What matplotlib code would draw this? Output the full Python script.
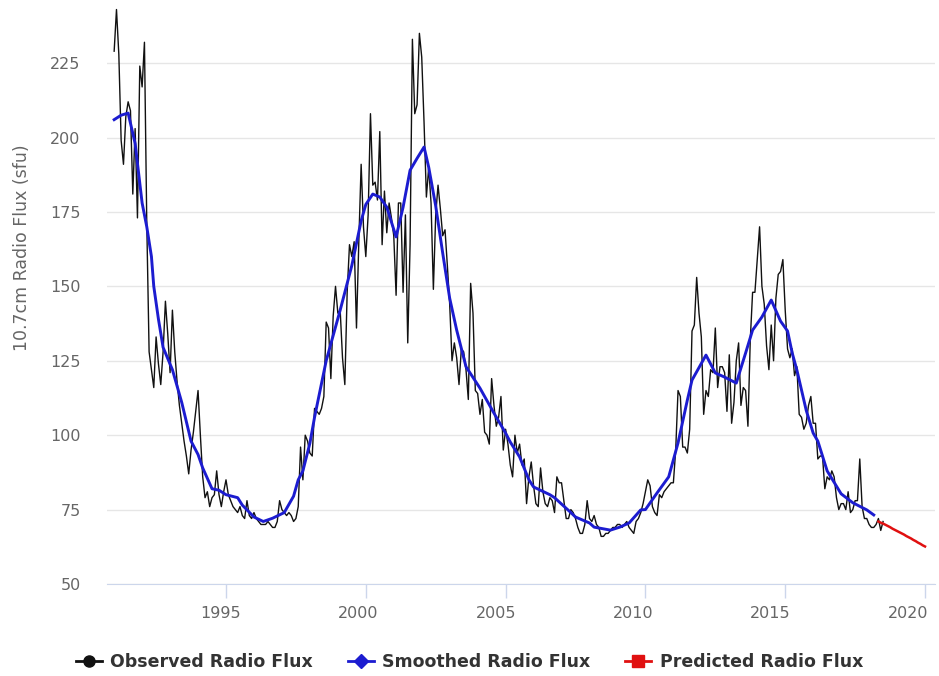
import numpy as np
import matplotlib.pyplot as plt
import matplotlib.transforms as mtransforms
from matplotlib.lines import Line2D

# Monthly observed 10.7 cm radio flux (sfu), Jan 1991 - Jul 2018
observed = [
    229, 243, 228, 199, 191, 207, 212, 209, 181, 203, 173, 224,   # 1991
    217, 232, 171, 128, 122, 116, 133, 124, 117, 128, 145, 134,   # 1992
    121, 142, 128, 118, 110, 104, 98, 93, 87, 95, 101, 108,       # 1993
    115, 100, 86, 79, 81, 76, 79, 80, 88, 80, 76, 81,             # 1994
    85, 80, 78, 76, 75, 74, 76, 73, 72, 78, 73, 72,               # 1995
    74, 72, 71, 70, 70, 70, 71, 70, 69, 69, 71, 78,               # 1996
    75, 74, 73, 74, 73, 71, 72, 76, 96, 85, 100, 98,              # 1997
    94, 93, 109, 108, 107, 109, 113, 138, 136, 119, 140, 150,     # 1998
    141, 142, 126, 117, 148, 164, 160, 165, 136, 165, 191, 170,   # 1999
    160, 174, 208, 184, 185, 179, 202, 164, 182, 168, 178, 173,   # 2000
    167, 147, 178, 178, 148, 174, 131, 164, 233, 208, 211, 235,   # 2001
    227, 205, 180, 190, 178, 149, 174, 184, 176, 167, 169, 157,   # 2002
    144, 125, 131, 126, 117, 129, 128, 122, 112, 151, 141, 115,   # 2003
    114, 107, 112, 101, 100, 97, 119, 110, 103, 106, 113, 95,     # 2004
    102, 97, 90, 86, 100, 94, 97, 90, 92, 77, 86, 91,             # 2005
    83, 77, 76, 89, 81, 77, 76, 79, 78, 74, 86, 84,               # 2006
    84, 78, 72, 72, 75, 74, 72, 69, 67, 67, 70, 78,               # 2007
    72, 71, 73, 70, 69, 66, 66, 67, 67, 68, 69, 69,               # 2008
    70, 70, 69, 70, 71, 69, 68, 67, 71, 72, 74, 77,               # 2009
    81, 85, 83, 76, 74, 73, 80, 79, 81, 82, 83, 84,               # 2010
    84, 95, 115, 113, 96, 96, 94, 102, 135, 137, 153, 141,        # 2011
    133, 107, 115, 113, 122, 121, 136, 116, 123, 123, 121, 108,   # 2012
    127, 104, 111, 125, 131, 110, 116, 115, 103, 132, 148, 148,   # 2013
    159, 170, 150, 144, 130, 122, 137, 125, 146, 154, 155, 159,   # 2014
    142, 129, 126, 129, 120, 123, 107, 106, 102, 104, 110, 113,   # 2015
    104, 104, 92, 93, 93, 82, 86, 85, 88, 86, 79, 75,             # 2016
    77, 77, 75, 81, 74, 75, 78, 78, 92, 76, 72, 72,               # 2017
    70, 69, 69, 70, 72, 68, 71,                                   # 2018
]

# Smoothed flux: months since Jan 1991 and value
smoothed_month = [
    0, 3, 6, 9, 12, 14, 16, 17, 19, 21, 25, 29, 33, 36, 38, 42, 45, 48,
    53, 55, 60, 64, 68, 73, 77, 79, 81, 84, 86, 91, 97, 98, 102, 106, 108,
    111, 114, 117, 121, 124, 127, 130, 133, 135, 138, 141, 144, 147, 151,
    157, 163, 168, 170, 174, 178, 180, 187, 189, 196, 198, 204, 206, 213,
    217, 221, 226, 228, 233, 238, 242, 246, 248, 254, 258, 262, 267, 271,
    274, 278, 282, 286, 289, 291, 293, 297, 300, 302, 306, 312, 317, 323, 326,
]
smoothed_flux = [
    206, 207.5, 208.2, 198, 178, 170, 160, 150, 139, 129.5, 122, 111, 98,
    93.5, 89, 82, 81.5, 80, 79, 76.5, 72.5, 71, 72.1, 74, 79.5, 85, 88,
    97.3, 106, 125, 142, 145, 157, 172, 177.5, 181, 180, 176.6, 166.6,
    176.6, 189, 193, 196.8, 190, 177, 161.2, 146, 135.3, 123, 115.8, 107.4,
    100.7, 97.7, 92.7, 85, 82.6, 80, 79, 74, 72.5, 70.5, 69.1, 68.1, 69.1,
    70.5, 74.9, 75, 80.6, 86, 97.4, 111.8, 118.5, 126.9, 120.9, 119.5,
    117.5, 127.6, 135.3, 139.7, 145.4, 138.3, 135, 127.6, 121.9, 108.4,
    100.7, 98, 88, 80.3, 77.3, 74.9, 73.2,
]

# Predicted flux, May 2018 onward
predicted_start = 328
predicted = [
    71.0, 70.6, 70.3, 69.9, 69.5, 69.1, 68.6, 68.2, 67.8, 67.4, 67.0,
    66.6, 66.1, 65.7, 65.3, 64.8, 64.4, 63.9, 63.5, 63.0, 62.6,
]

year_ticks = [1995, 2000, 2005, 2010, 2015, 2020]
flux_ticks = [50, 75, 100, 125, 150, 175, 200, 225]

obs_x = 1991 + np.arange(len(observed)) / 12
sm_x = 1991 + np.array(smoothed_month) / 12
pr_x = 1991 + (predicted_start + np.arange(len(predicted))) / 12

black = '#111111'
blue = '#1c1cd0'
red = '#e01010'

fig = plt.figure(figsize=(9.39, 6.76), dpi=100)
ax = fig.add_axes([107 / 939, 92 / 676, 828 / 939, 584 / 676])

ax.plot(obs_x, observed, color=black, lw=1.0, zorder=3)
ax.plot(sm_x, smoothed_flux, color=blue, lw=2.1, zorder=4)
ax.plot(pr_x, predicted, color=red, lw=1.8, zorder=4)

ax.set_xlim(1990.744, 2020.357)
ax.set_ylim(50, 246.2)
ax.set_yticks(flux_ticks)
ax.set_xticks(year_ticks)
ax.grid(axis='y', color='#e6e6e6', lw=1)
ax.set_axisbelow(True)

for side in ['top', 'right', 'left']:
    ax.spines[side].set_visible(False)
ax.spines['bottom'].set_color('#ccd6eb')
ax.spines['bottom'].set_zorder(1)

ax.tick_params(axis='y', length=0, pad=19, labelsize=11.5, labelcolor='#666666')
ax.tick_params(axis='x', length=10, width=1, color='#ccd6eb', pad=6,
               labelsize=11.5, labelcolor='#666666')

# year labels sit a little left of their tick marks, more so further right
for i, lab in enumerate(ax.get_xticklabels()):
    shift = (5 + 2.4 * i) / 100
    lab.set_transform(lab.get_transform() +
                      mtransforms.ScaledTranslation(-shift, 0, fig.dpi_scale_trans))

fig.text(22 / 939, 1 - 248 / 676, '10.7cm Radio Flux (sfu)', rotation=90,
         ha='center', va='center', fontsize=12.5, color='#666666')

handles = [
    Line2D([], [], color=black, lw=2, marker='o', markersize=8),
    Line2D([], [], color=blue, lw=2, marker='D', markersize=7),
    Line2D([], [], color=red, lw=2, marker='s', markersize=8),
]
labels = ['Observed Radio Flux', 'Smoothed Radio Flux', 'Predicted Radio Flux']
fig.legend(handles, labels, loc='center', bbox_to_anchor=(0.5, 1 - 662 / 676),
           ncol=3, frameon=False, handlelength=1.5, columnspacing=2.0,
           handletextpad=0.5, labelcolor='#333333',
           prop={'weight': 'bold', 'size': 12.5})

fig.savefig('out.png', dpi=100)
